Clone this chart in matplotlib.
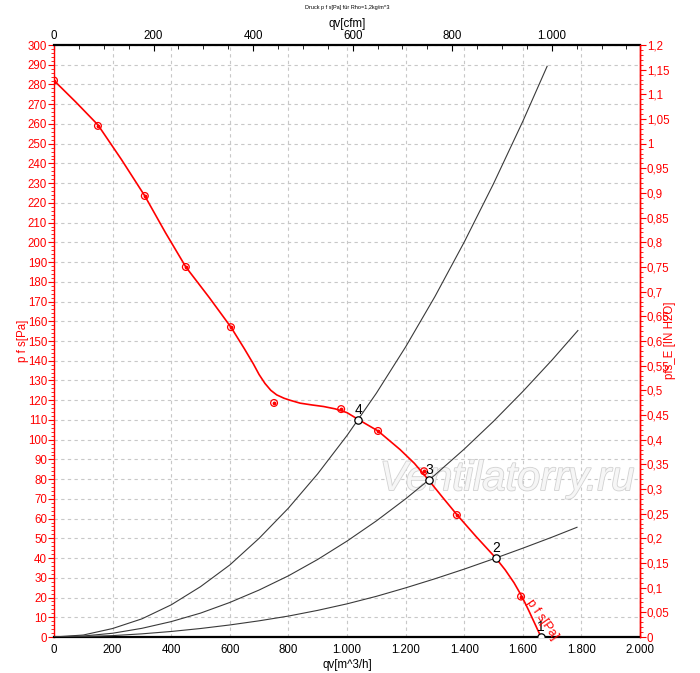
import matplotlib
matplotlib.use("Agg")
import matplotlib.pyplot as plt
import matplotlib.patheffects as pe
from matplotlib.ticker import MultipleLocator, FuncFormatter

plt.rcParams['font.family'] = ['Liberation Sans', 'DejaVu Sans']

# ---- data ----
fan_q = [0, 75, 150, 230, 310, 380, 450, 530, 604, 650, 680, 700, 720, 740, 760, 785, 805,
         840, 880, 920, 960, 1000, 1041, 1106, 1181, 1230, 1276, 1325, 1375, 1440, 1508,
         1540, 1570, 1597, 1620, 1645, 1662]
fan_p = [282, 271, 259.5, 242, 223.5, 205, 187.5, 172, 157, 146, 138.5, 133, 128.5, 125,
         122.7, 121, 120, 118.5, 117.6, 116.8, 115.6, 113.7, 110, 104.4, 95, 88, 80, 71,
         62, 51, 40, 34, 27.5, 20.5, 13.5, 5.5, 0]

meas_q = [0, 150, 310, 450, 604, 751, 980, 1106, 1263, 1375, 1594]
meas_p = [282, 259, 223.5, 187.5, 157, 118.6, 115.5, 104.4, 84, 61.8, 20.5]

sysA_q = [0, 100, 200, 300, 400, 500, 600, 700, 800, 900, 1000, 1100, 1200, 1300, 1400, 1500, 1600, 1683]
sysA_p = [0, 1.0, 4.3, 9.2, 16.3, 25.5, 36.5, 50.0, 65.3, 82.7, 102.1, 123.5, 147.0, 172.5, 200.1, 229.7, 261.3, 289.2]

sysB_q = [0, 100, 200, 300, 400, 500, 600, 700, 800, 900, 1000, 1100, 1200, 1300, 1400, 1500, 1600, 1700, 1788]
sysB_p = [0, 0.5, 1.9, 4.4, 7.8, 12.1, 17.5, 23.8, 31.0, 39.3, 48.6, 58.8, 70.0, 82.1, 95.2, 109.3, 124.4, 140.4, 155.3]

sysC_q = [0, 100, 200, 300, 400, 500, 600, 700, 800, 900, 1000, 1100, 1200, 1300, 1400, 1500, 1600, 1700, 1785]
sysC_p = [0, 0.2, 0.7, 1.6, 2.8, 4.3, 6.1, 8.2, 10.6, 13.5, 16.8, 20.6, 24.9, 29.5, 34.4, 39.6, 45.0, 50.6, 55.6]

op_q = [1662, 1508, 1280, 1038]
op_p = [0, 40, 79.6, 110]
op_labels = ["1", "2", "3", "4"]

x_ticks = [0, 200, 400, 600, 800, 1000, 1200, 1400, 1600, 1800, 2000]
cfm_ticks = [0, 200, 400, 600, 800, 1000]

RED = '#ff0000'
M3H_PER_CFM = 1.699

fig = plt.figure(figsize=(7.0, 6.73), dpi=100)
ax = fig.add_axes([54/700, 36/673, 586/700, 592/673])

# grid
ax.set_xticks(x_ticks)
ax.yaxis.set_major_locator(MultipleLocator(10))
ax.yaxis.set_minor_locator(MultipleLocator(2))
ax.grid(True, which='major', color='#c8c8c8', linestyle=(0, (3, 3)), linewidth=0.8)
ax.set_axisbelow(True)

# system curves
for q, p in [(sysA_q, sysA_p), (sysB_q, sysB_p), (sysC_q, sysC_p)]:
    ax.plot(q, p, color='#3a3a3a', linewidth=0.8, zorder=3)

# fan curve
ax.plot(fan_q, fan_p, color=RED, linewidth=1.2, zorder=4)
ax.scatter(meas_q, meas_p, s=24, facecolors='none', edgecolors=RED, linewidths=0.9, zorder=5)
ax.scatter(meas_q, meas_p, s=3, color=RED, zorder=5)

# operating points
ax.scatter(op_q, op_p, s=28, facecolors='white', edgecolors='black', linewidths=0.9, zorder=6)
for q, p, lab in zip(op_q, op_p, op_labels):
    ax.annotate(lab, (q, p), xytext=(0, 7), textcoords='offset points',
                ha='center', va='center', fontsize=10, color='black', zorder=7)

ax.text(1666, 9, 'p f s[Pa]', color=RED, fontsize=9, rotation=-55,
        ha='center', va='center', rotation_mode='anchor', zorder=7)

# watermark
ax.text(1546, 80, 'Ventilatorry.ru', fontsize=30, style='italic', color='#f6f6f6',
        ha='center', va='center', zorder=2,
        path_effects=[pe.withStroke(linewidth=1.2, foreground='#d2d2d2')])

ax.set_xlim(0, 2000)
ax.set_ylim(0, 300)

# bottom axis
ax.xaxis.set_major_formatter(FuncFormatter(lambda v, _: f"{int(v):,}".replace(',', '.')))
ax.tick_params(axis='x', which='major', direction='in', length=0, pad=5, labelsize=8.3, colors='black')
ax.set_xlabel('qv[m^3/h]', fontsize=8.3, labelpad=2)

# left axis
ax.tick_params(axis='y', which='major', direction='out', length=4, width=0.8, pad=1,
               labelsize=8.3, colors=RED)
ax.tick_params(axis='y', which='minor', direction='out', length=2, width=0.6, colors=RED)
fig.text(23/700, 1 - 341/673, 'p f s[Pa]', rotation=90, color=RED, fontsize=8.3,
         ha='center', va='center')

for s in ['bottom', 'top']:
    ax.spines[s].set_linewidth(1.6)
    ax.spines[s].set_color('black')
ax.spines['left'].set_color(RED)
ax.spines['left'].set_linewidth(1.0)
ax.spines['right'].set_color(RED)
ax.spines['right'].set_linewidth(1.0)

# right axis (inch H2O)
axr = ax.twinx()
axr.set_ylim(0, 1.2)
axr.yaxis.set_major_locator(MultipleLocator(0.05))
axr.yaxis.set_minor_locator(MultipleLocator(0.01))

def fmt_in(v, _):
    s = f"{v:.2f}".rstrip('0').rstrip('.')
    return s.replace('.', ',')

axr.yaxis.set_major_formatter(FuncFormatter(fmt_in))
axr.tick_params(axis='y', which='major', direction='out', length=4, width=0.8, pad=1,
                labelsize=8.3, colors=RED)
axr.tick_params(axis='y', which='minor', direction='out', length=2, width=0.6, colors=RED)
for s in axr.spines.values():
    s.set_visible(False)
axr.spines['right'].set_visible(True)
axr.spines['right'].set_color(RED)
axr.spines['right'].set_linewidth(1.0)
fig.text(670/700, 1 - 340/673, 'pfs_E [IN H2O]', rotation=90, color=RED, fontsize=8.3,
         ha='center', va='center')

# top axis (cfm)
axt = ax.secondary_xaxis('top', functions=(lambda q: q / M3H_PER_CFM, lambda c: c * M3H_PER_CFM))
axt.set_xticks(cfm_ticks)
axt.xaxis.set_minor_locator(MultipleLocator(50))
axt.xaxis.set_major_formatter(FuncFormatter(lambda v, _: f"{int(round(v)):,}".replace(',', '.')))
axt.tick_params(axis='x', which='major', direction='in', length=4, width=0.8, pad=2, labelsize=8.3)
axt.tick_params(axis='x', which='minor', direction='in', length=3, width=0.6)
axt.set_xlabel('qv[cfm]', fontsize=8.3, labelpad=2)
axt.spines['top'].set_visible(False)

fig.text(347/700, 1 - 8/673, 'Druck p f s[Pa] für Rho=1,2kg/m^3', fontsize=4, ha='center', va='center')

fig.savefig('out.png', dpi=100, facecolor='white')
